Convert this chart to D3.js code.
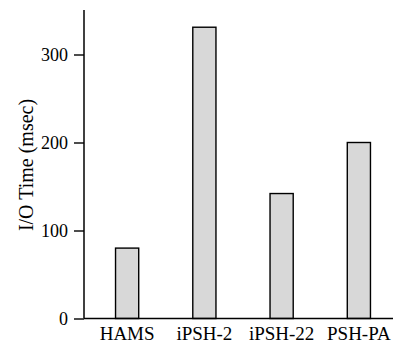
<!DOCTYPE html>
<html>
<head>
<meta charset="utf-8">
<script src="https://cdn.jsdelivr.net/npm/d3@7"></script>
<style>
  html, body { margin: 0; padding: 0; background: #fff; }
  svg { display: block; }
  text { font-family: "Liberation Serif", "Times New Roman", serif; fill: #000; }
</style>
</head>
<body>
<svg id="chart" width="393" height="345"></svg>
<script>
// I/O time per scheme
const categories = ["HAMS", "iPSH-2", "iPSH-22", "PSH-PA"];
const ioTime = [80, 331, 142, 200];
const yTicks = [0, 100, 200, 300];

const svg = d3.select("#chart");
const plotLeft = 84, plotRight = 393, plotTop = 10, plotBottom = 318.5;

const y = d3.scaleLinear().domain([0, 350]).range([plotBottom, plotTop + 0.5]);
const x = d3.scaleBand().domain(categories)
  .range([88.5, 397.5]).paddingInner(0.7).paddingOuter(0.35);

// bars
svg.append("g").selectAll("rect")
  .data(categories)
  .join("rect")
  .attr("x", d => x(d))
  .attr("width", x.bandwidth())
  .attr("y", (d, i) => y(ioTime[i]))
  .attr("height", (d, i) => y(0) - y(ioTime[i]))
  .attr("fill", "#d8d8d8")
  .attr("stroke", "#000")
  .attr("stroke-width", 1.4);

// y axis
const yAxis = svg.append("g")
  .attr("transform", `translate(${plotLeft},0)`)
  .call(d3.axisLeft(y).tickValues(yTicks).tickSize(10).tickPadding(6).tickSizeOuter(0));
yAxis.select(".domain").remove();
yAxis.selectAll(".tick line").attr("stroke", "#000").attr("stroke-width", 1.4);
yAxis.selectAll(".tick text").style("font-size", "18px").attr("dy", "0.34em");
svg.append("line")
  .attr("x1", plotLeft).attr("x2", plotLeft)
  .attr("y1", plotTop).attr("y2", plotBottom)
  .attr("stroke", "#000").attr("stroke-width", 1.5);

// x axis
const xAxis = svg.append("g")
  .attr("transform", `translate(0,${plotBottom})`)
  .call(d3.axisBottom(x).tickSize(0).tickPadding(8));
xAxis.select(".domain").remove();
xAxis.selectAll(".tick text").style("font-size", "19px").attr("dy", "0.71em");
svg.append("line")
  .attr("x1", plotLeft).attr("x2", plotRight)
  .attr("y1", plotBottom).attr("y2", plotBottom)
  .attr("stroke", "#000").attr("stroke-width", 1.5);

// y axis title
svg.append("text")
  .attr("transform", "translate(33,165) rotate(-90)")
  .attr("text-anchor", "middle")
  .style("font-size", "20px")
  .text("I/O Time (msec)");
</script>
</body>
</html>
